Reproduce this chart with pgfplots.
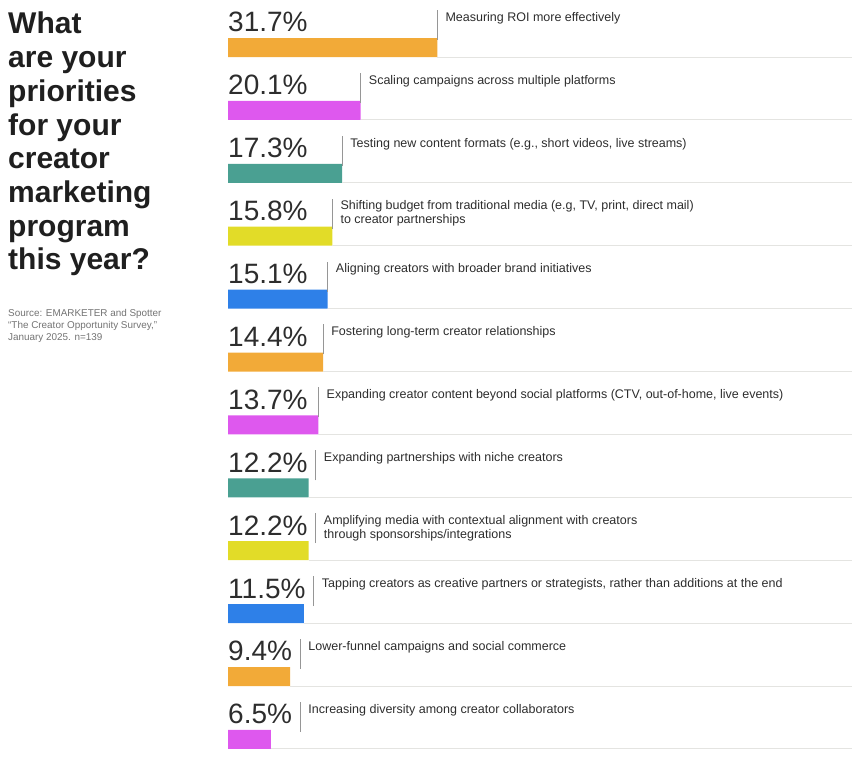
\documentclass[border=0pt]{standalone}
\usepackage{pgfplots}
\pgfplotsset{compat=1.18}
\usepackage{fontspec}
\setmainfont{Liberation Sans}
\usetikzlibrary{calc}
\definecolor{cOrange}{RGB}{242,170,56}
\definecolor{cMagenta}{RGB}{222,88,238}
\definecolor{cTeal}{RGB}{74,160,146}
\definecolor{cYellow}{RGB}{226,220,40}
\definecolor{cBlue}{RGB}{46,128,232}
\definecolor{cText}{RGB}{45,45,45}
\definecolor{cLine}{RGB}{150,150,150}
\definecolor{cFaint}{RGB}{228,228,225}
\newcommand{\pctfont}{\fontsize{28}{30}\selectfont}
\newcommand{\labfont}{\fontsize{12.5}{14}\selectfont}
\newcommand{\mk}[2]{\coordinate (s#1) at (axis cs:0,#1);\coordinate (e#1) at (axis cs:#2,#1);\coordinate (r#1) at (axis cs:94.5,#1);}
\newcommand{\rowann}[3]{%
  \draw[cFaint, line width=0.8pt] ([yshift=-9.5pt]e#1) -- ([yshift=-9.5pt]r#1);
  \node[anchor=base west, inner sep=0pt, font=\pctfont, text=cText] (p#1) at ([yshift=15.5pt]s#1) {#2\%};
  \path let \p1=(p#1.base east), \p2=(e#1) in coordinate (l#1) at ({max(\x1+8pt,\x2)}, \y2+9.5pt);
  \draw[cLine, line width=0.9pt] ([yshift=-2pt]l#1) -- ++(0,30pt);
  \node[anchor=north west, inner sep=0pt, font=\labfont, text=cText, align=left] at ([xshift=8pt, yshift=26pt]l#1) {#3};
}
\begin{document}
\begin{tikzpicture}
\path[use as bounding box] (0,0) rectangle (866pt,-758pt);
% title
\node[anchor=north west, inner sep=0pt, align=left, font=\fontsize{30}{33.7}\selectfont\bfseries, text=black!88] at (8pt,-12pt)
 {What\\are your\\priorities\\for your\\creator\\marketing\\program\\this year?};
\node[anchor=north west, inner sep=0pt, align=left, font=\fontsize{9.9}{12.3}\selectfont, text=black!55] at (8pt,-309pt)
 {Source: EMARKETER and Spotter\\“The Creator Opportunity Survey,”\\January 2025. n=139};
\begin{axis}[
  at={(228pt,0pt)}, anchor=north west,
  scale only axis, width=624pt, height=758pt,
  xmin=0, xmax=94.5, ymin=-0.755, ymax=11.296,
  y dir=reverse,
  axis lines=none, ticks=none,
  xbar, bar width=19pt, bar shift=0pt,
  clip=false,
]
\addplot[fill=cOrange, draw=none] coordinates {(31.7,0) (14.4,5) (9.4,10)};
\addplot[fill=cMagenta, draw=none] coordinates {(20.1,1) (13.7,6) (6.5,11)};
\addplot[fill=cTeal, draw=none] coordinates {(17.3,2) (12.2,7)};
\addplot[fill=cYellow, draw=none] coordinates {(15.8,3) (12.2,8)};
\addplot[fill=cBlue, draw=none] coordinates {(15.1,4) (11.5,9)};
\mk{0}{31.7}\mk{1}{20.1}\mk{2}{17.3}\mk{3}{15.8}\mk{4}{15.1}\mk{5}{14.4}
\mk{6}{13.7}\mk{7}{12.2}\mk{8}{12.2}\mk{9}{11.5}\mk{10}{9.4}\mk{11}{6.5}
\end{axis}
\rowann{0}{31.7}{Measuring ROI more effectively}
\rowann{1}{20.1}{Scaling campaigns across multiple platforms}
\rowann{2}{17.3}{Testing new content formats (e.g., short videos, live streams)}
\rowann{3}{15.8}{Shifting budget from traditional media (e.g, TV, print, direct mail)\\to creator partnerships}
\rowann{4}{15.1}{Aligning creators with broader brand initiatives}
\rowann{5}{14.4}{Fostering long-term creator relationships}
\rowann{6}{13.7}{Expanding creator content beyond social platforms (CTV, out-of-home, live events)}
\rowann{7}{12.2}{Expanding partnerships with niche creators}
\rowann{8}{12.2}{Amplifying media with contextual alignment with creators\\through sponsorships/integrations}
\rowann{9}{11.5}{Tapping creators as creative partners or strategists, rather than additions at the end}
\rowann{10}{9.4}{Lower-funnel campaigns and social commerce}
\rowann{11}{6.5}{Increasing diversity among creator collaborators}
\end{tikzpicture}
\end{document}
